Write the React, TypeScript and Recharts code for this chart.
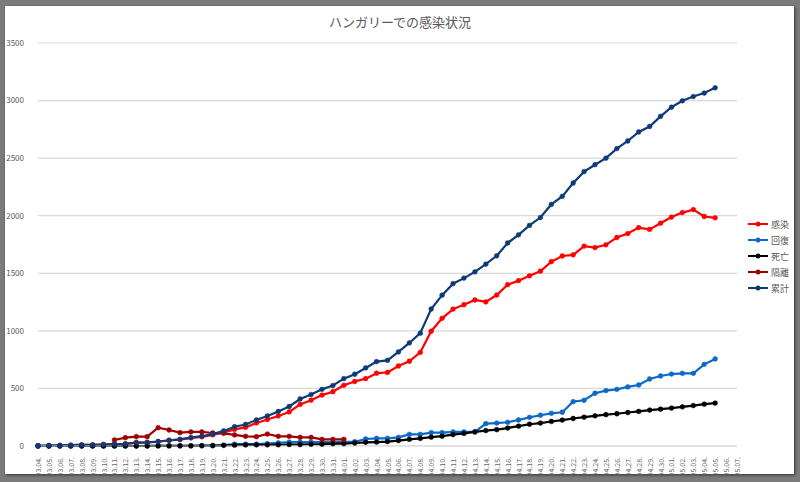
import { LineChart, Line, XAxis, YAxis, CartesianGrid, Legend } from 'recharts';

const dates = [
  '03.04.', '03.05.', '03.06.', '03.07.', '03.08.', '03.09.', '03.10.', '03.11.', '03.12.', '03.13.',
  '03.14.', '03.15.', '03.16.', '03.17.', '03.18.', '03.19.', '03.20.', '03.21.', '03.22.', '03.23.',
  '03.24.', '03.25.', '03.26.', '03.27.', '03.28.', '03.29.', '03.30.', '03.31.', '04.01.', '04.02.',
  '04.03.', '04.04.', '04.05.', '04.06.', '04.07.', '04.08.', '04.09.', '04.10.', '04.11.', '04.12.',
  '04.13.', '04.14.', '04.15.', '04.16.', '04.17.', '04.18.', '04.19.', '04.20.', '04.21.', '04.22.',
  '04.23.', '04.24.', '04.25.', '04.26.', '04.27.', '04.28.', '04.29.', '04.30.', '05.01.', '05.02.',
  '05.03.', '05.04.', '05.05.', '05.06.', '05.07.',
];

// 感染
const infected = [
  2, 4, 5, 7, 9, 9, 13, 16, 19, 30,
  31, 37, 48, 55, 70, 80, 97, 118, 144, 162,
  200, 230, 261, 296, 361, 398, 442, 471, 527, 560,
  585, 632, 639, 695, 736, 813, 997, 1109, 1189, 1227,
  1268, 1251, 1311, 1401, 1436, 1478, 1518, 1601, 1650, 1660,
  1736, 1723, 1747, 1811, 1845, 1897, 1881, 1935, 1988, 2027,
  2053, 1993, 1982,
];

// 回復
const recovered = [
  0, 0, 0, 0, 0, 0, 0, 0, 0, 0,
  1, 1, 1, 2, 2, 2, 2, 7, 16, 16,
  16, 21, 28, 34, 34, 34, 34, 34, 37, 37,
  61, 67, 67, 75, 101, 101, 116, 116, 122, 122,
  122, 194, 199, 206, 226, 249, 267, 284, 293, 385,
  397, 458, 481, 492, 513, 530, 582, 608, 625, 631,
  631, 709, 756,
];

// 死亡
const deaths = [
  0, 0, 0, 0, 0, 0, 0, 0, 0, 0,
  0, 1, 1, 1, 1, 3, 4, 6, 7, 9,
  10, 10, 11, 13, 13, 15, 16, 20, 21, 26,
  32, 34, 38, 47, 58, 66, 77, 85, 99, 109,
  122, 134, 142, 156, 172, 189, 199, 213, 225, 239,
  250, 262, 272, 280, 291, 300, 312, 320, 329, 340,
  351, 363, 373,
];

// 隔離 (03.11 - 04.01)
const isolatedStart = 7;
const isolated = [
  52, 72, 81, 81, 159, 139, 116, 122, 122, 113,
  110, 96, 84, 81, 104, 84, 84, 75, 75, 58,
  58, 58,
];

// 累計
const total = [
  2, 4, 5, 7, 9, 9, 13, 16, 19, 30,
  32, 39, 50, 58, 73, 85, 103, 131, 167, 187,
  226, 261, 300, 343, 408, 447, 492, 525, 585, 623,
  678, 733, 744, 817, 895, 980, 1190, 1310, 1410, 1458,
  1512, 1579, 1652, 1763, 1834, 1916, 1984, 2098, 2168, 2284,
  2383, 2443, 2500, 2583, 2649, 2727, 2775, 2863, 2942, 2998,
  3035, 3065, 3111,
];

const yTicks = [0, 500, 1000, 1500, 2000, 2500, 3000, 3500];

const series = [
  { key: 'infected', name: '感染', color: '#FF0000' },
  { key: 'recovered', name: '回復', color: '#0A6ACB' },
  { key: 'deaths', name: '死亡', color: '#000000' },
  { key: 'isolated', name: '隔離', color: '#A00000' },
  { key: 'total', name: '累計', color: '#0E3B76' },
];

const data = dates.map((date, i) => {
  const iso = i - isolatedStart;
  return {
    date,
    infected: infected[i] ?? null,
    recovered: recovered[i] ?? null,
    deaths: deaths[i] ?? null,
    isolated: iso >= 0 && iso < isolated.length ? isolated[iso] : null,
    total: total[i] ?? null,
  };
});

const FONT = '"Noto Sans CJK JP", "Noto Sans", sans-serif';

const DateTick = ({ x, y, payload }: any) => (
  <text
    x={x}
    y={y}
    transform={`rotate(-90 ${x} ${y})`}
    textAnchor="end"
    dominantBaseline="central"
    fontSize={7}
    fill="#666666"
    fontFamily={FONT}
  >
    {payload.value}
  </text>
);

const renderLegend = () => (
  <div style={{ fontFamily: FONT, fontSize: 9, color: '#595959' }}>
    {series.map((s) => (
      <div key={s.key} style={{ display: 'flex', alignItems: 'center', height: 16 }}>
        <svg width={22} height={8} style={{ marginRight: 2 }}>
          <line x1={1} y1={4} x2={21} y2={4} stroke={s.color} strokeWidth={2} />
          <circle cx={11} cy={4} r={2.5} fill={s.color} />
        </svg>
        <span>{s.name}</span>
      </div>
    ))}
  </div>
);

export default function App() {
  return (
    <div style={{ position: 'fixed', left: 0, top: 0, width: 800, height: 482, background: '#7b7b7b' }}>
      <div
        style={{
          position: 'absolute',
          left: 5,
          top: 6,
          width: 789,
          height: 468,
          background: '#ffffff',
          boxShadow: '1px 1px 3px rgba(0,0,0,0.6)',
        }}
      />
      <div
        style={{
          position: 'absolute',
          left: 0,
          top: 12,
          width: 800,
          textAlign: 'center',
          fontFamily: FONT,
          fontSize: 13,
          color: '#595959',
        }}
      >
        ハンガリーでの感染状況
      </div>
      <div style={{ position: 'absolute', left: 0, top: 0 }}>
        <LineChart width={800} height={482} data={data} margin={{ top: 43, right: 63, bottom: 6, left: 10 }}>
          <CartesianGrid vertical={false} stroke="#d9d9d9" strokeWidth={1.2} />
          <XAxis
            dataKey="date"
            interval={0}
            tick={<DateTick />}
            tickLine={false}
            axisLine={{ stroke: '#d9d9d9' }}
            tickMargin={5}
            height={30}
          />
          <YAxis
            domain={[0, 3500]}
            ticks={yTicks}
            width={28}
            axisLine={false}
            tickLine={false}
            tickMargin={8}
            tick={{ fontSize: 8, fill: '#595959', fontFamily: FONT }}
          />
          <Legend
            layout="horizontal"
            verticalAlign="middle"
            align="center"
            content={renderLegend}
            wrapperStyle={{ position: 'absolute', left: 747, top: 216, width: 50, height: 82 }}
          />
          {series.map((s) => (
            <Line
              key={s.key}
              type="linear"
              dataKey={s.key}
              name={s.name}
              stroke={s.color}
              strokeWidth={2.2}
              dot={{ r: 2.4, fill: s.color, stroke: s.color, strokeWidth: 0.5 }}
              isAnimationActive={false}
            />
          ))}
        </LineChart>
      </div>
    </div>
  );
}
